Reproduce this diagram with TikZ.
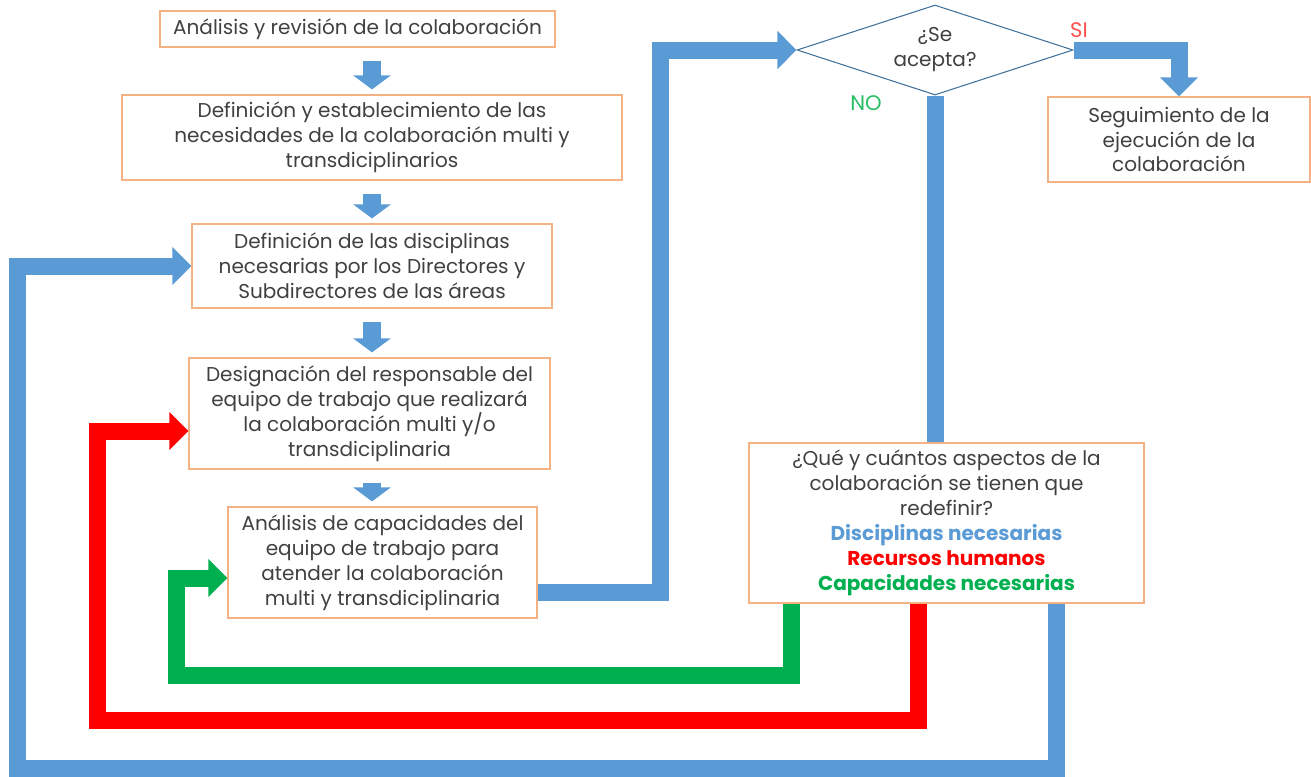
\documentclass[tikz,border=0pt]{standalone}
\usepackage{fontspec}
\setmainfont{Poppins}
\usepackage{tikz}
\usetikzlibrary{positioning}
\usetikzlibrary{shapes.geometric}
\usetikzlibrary{arrows.meta}

\definecolor{azul}{RGB}{91,155,213}
\definecolor{borde}{RGB}{65,113,156}
\definecolor{rojo}{RGB}{255,0,0}
\definecolor{rojoclaro}{RGB}{255,80,80}
\definecolor{verde}{RGB}{0,176,80}
\definecolor{verdeclaro}{RGB}{40,190,100}
\definecolor{naranja}{RGB}{244,177,131}
\definecolor{texto}{RGB}{64,64,64}

\tikzset{
	caja/.style={draw=naranja, line width=0.7pt, align=center, text=texto, inner sep=0pt, font=\fontsize{11.4}{14.2}\selectfont},
	bajada/.style={azul, line width=0.36cm, -{Triangle[length=0.28cm,width=0.74cm]}, shorten <=0.26cm, shorten >=0.1cm},
	retorno/.style={line width=0.34cm, -{Triangle[length=0.38cm,width=0.74cm]}},
}

\begin{document}
\begin{tikzpicture}[x=1cm,y=-1cm]
	\useasboundingbox (0,0) rectangle (26.22,15.52);
	% cajas del proceso
	\node[caja, minimum width=7.9cm, minimum height=0.72cm] (b1) at (7.15,0.58) {Análisis y revisión de la colaboración};
	\node[caja, minimum width=10cm, minimum height=1.7cm] (b2) at (7.44,2.75) {Definición y establecimiento de las\\necesidades de la colaboración multi y\\transdiciplinarios};
	\node[caja, minimum width=7.2cm, minimum height=1.68cm] (b3) at (7.44,5.32) {Definición de las disciplinas\\necesarias por los Directores y\\Subdirectores de las áreas};
	\node[caja, minimum width=7.22cm, minimum height=2.22cm] (b4) at (7.39,8.27) {Designación del responsable del\\equipo de trabajo que realizará\\la colaboración multi y/o\\transdiciplinaria};
	\node[caja, minimum width=6.18cm, minimum height=2.22cm] (b5) at (7.65,11.25) {Análisis de capacidades del\\equipo de trabajo para\\atender la colaboración\\multi y transdiciplinaria};
	\node[caja, minimum width=5.24cm, minimum height=1.7cm] (b6) at (23.58,2.79) {Seguimiento de la\\ejecución de la\\colaboración};
	\node[caja, minimum width=7.9cm, minimum height=3.2cm] (b7) at (18.93,10.46) {¿Qué y cuántos aspectos de la\\colaboración se tienen que\\redefinir?\\{\bfseries\color{azul}Disciplinas necesarias}\\{\bfseries\color{rojo}Recursos humanos}\\{\bfseries\color{verde}Capacidades necesarias}};
	% decision
	\node[diamond, draw=borde, line width=0.6pt, shape aspect=3, inner sep=0pt, minimum width=5.52cm, minimum height=1.8cm, align=center, text=texto, font=\fontsize{11.4}{14.2}\selectfont] (dec) at (18.7,1.0) {¿Se\\acepta?};
	\node[text=rojoclaro, font=\fontsize{12}{14}\selectfont] (si) at (21.58,0.6) {SI};
	\node[text=verdeclaro, font=\fontsize{12}{14}\selectfont] (no) at (17.32,2.06) {NO};

	% flechas hacia abajo
	\coordinate (col) at (7.44,0);
	\draw[bajada] (b1.south -| col) -- (b2.north -| col);
	\draw[bajada] (b2.south -| col) -- (b3.north -| col);
	\draw[bajada] (b3.south -| col) -- (b4.north -| col);
	\draw[bajada] (b4.south -| col) -- (b5.north -| col);

	% hacia la decision
	\coordinate (subida) at (13.2,0);
	\draw[retorno, azul] ([yshift=-0.59cm]b5.east) -| (subida |- dec.west) -- (dec.west);
	\draw[azul, line width=0.34cm] (dec.south) -- (dec.south |- b7.north);%NO
	\draw[retorno, azul] (dec.east) -| (b6.north);%SI

	% retornos
	\coordinate (xverde) at (15.82,13.5);
	\coordinate (xrojo) at (18.36,14.4);
	\coordinate (xazul) at (21.12,15.36);
	\coordinate (izqverde) at (3.52,0);
	\coordinate (izqrojo) at (1.94,0);
	\coordinate (izqazul) at (0.34,0);
	\draw[retorno, verde] (b7.south -| xverde) |- (izqverde |- xverde) |- ([yshift=-0.31cm]b5.west);
	\draw[retorno, rojo] (b7.south -| xrojo) |- (izqrojo |- xrojo) |- ([yshift=-0.35cm]b4.west);
	\draw[retorno, azul] (b7.south -| xazul) |- (izqazul |- xazul) |- (b3.west);
\end{tikzpicture}
\end{document}
